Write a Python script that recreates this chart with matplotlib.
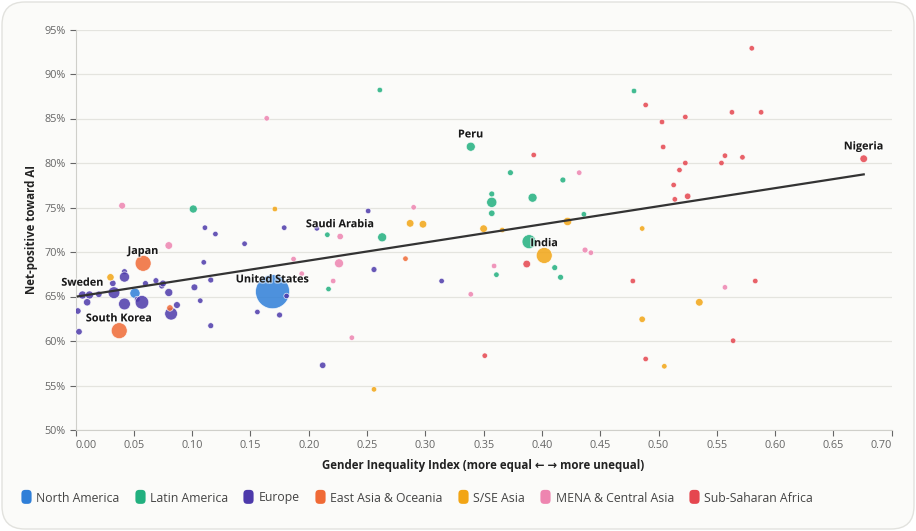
import matplotlib.pyplot as plt
import numpy as np
from matplotlib.patches import FancyBboxPatch, BoxStyle
from matplotlib.lines import Line2D
from matplotlib.markers import MarkerStyle
from matplotlib.ticker import FuncFormatter
import matplotlib.patheffects as pe

plt.rcParams['font.family'] = ['Open Sans', 'DejaVu Sans']

regions = ["North America", "Latin America", "Europe", "East Asia & Oceania",
           "S/SE Asia", "MENA & Central Asia", "Sub-Saharan Africa"]
colors = ["#2f7fd8", "#22b07f", "#4d3aab", "#f06a36", "#f2a515", "#ee85b0", "#e5464f"]

# gender inequality index, net-positive share (%), weight (survey size) per region
na_gii = [0.169, 0.051]
na_pos = [65.54, 65.36]
na_w = [50, 4.5]

latam_gii = [0.101, 0.261, 0.339, 0.373, 0.357, 0.357, 0.357, 0.392, 0.418, 0.436,
             0.216, 0.263, 0.217, 0.361, 0.389, 0.411, 0.416, 0.479]
latam_pos = [74.83, 88.2, 81.83, 78.91, 76.52, 75.58, 74.35, 76.10, 78.09, 74.24,
             71.94, 71.65, 65.84, 67.45, 71.16, 68.24, 67.16, 88.09]
latam_w = [2.8, 1.3, 3.5, 1.5, 1.5, 4.5, 1.8, 3.5, 1.5, 1.3,
           1.3, 3.5, 1.3, 1.3, 8.5, 1.5, 1.5, 1.3]

eu_gii = [0.006, 0.012, 0.020, 0.010, 0.002, 0.003, 0.032, 0.033, 0.042, 0.042,
          0.042, 0.053, 0.057, 0.060, 0.069, 0.074, 0.075, 0.080, 0.082, 0.087,
          0.102, 0.107, 0.110, 0.116, 0.116, 0.120, 0.111, 0.145, 0.156, 0.175,
          0.179, 0.181, 0.207, 0.251, 0.256, 0.314, 0.212]
eu_pos = [65.17, 65.17, 65.25, 64.35, 63.37, 61.04, 66.48, 65.43, 67.79, 67.19,
          64.16, 64.69, 64.35, 66.46, 66.78, 66.18, 66.46, 65.45, 63.07, 64.04,
          66.03, 64.53, 68.84, 66.85, 61.72, 72.02, 72.73, 70.93, 63.26, 62.92,
          72.73, 65.06, 72.66, 74.61, 68.03, 66.74, 57.27]
eu_w = [2.8, 2.8, 1.8, 2.3, 1.8, 1.8, 1.8, 6, 1.5, 4.5,
        6, 1.5, 8, 1.5, 1.5, 1.5, 2, 2.8, 7, 2,
        2, 1.3, 1.3, 1.5, 1.5, 1.3, 1.3, 1.3, 1.3, 1.5,
        1.3, 1.3, 1.3, 1.3, 1.5, 1.3, 1.8]

ea_gii = [0.058, 0.0375, 0.081, 0.283]
ea_pos = [68.73, 61.16, 63.71, 69.25]
ea_w = [11, 11, 1.8, 1.3]

sa_gii = [0.030, 0.171, 0.287, 0.298, 0.350, 0.366, 0.422, 0.402, 0.486, 0.535,
          0.486, 0.505, 0.256]
sa_pos = [67.16, 74.83, 73.22, 73.12, 72.62, 72.47, 73.43, 69.61, 72.64, 64.35,
          62.44, 57.16, 54.57]
sa_w = [2.3, 1.3, 2.5, 2.5, 2.5, 1.3, 3, 11, 1.3, 2.5,
        1.8, 1.3, 1.3]

mena_gii = [0.040, 0.080, 0.164, 0.187, 0.194, 0.221, 0.226, 0.227, 0.237, 0.290,
            0.339, 0.359, 0.432, 0.437, 0.442, 0.557]
mena_pos = [75.2, 70.73, 85.02, 69.21, 67.56, 66.74, 68.73, 71.74, 60.37, 75.02,
            65.25, 68.43, 78.91, 70.22, 69.92, 66.03]
mena_w = [2, 2.5, 1.3, 1.3, 1.3, 1.3, 3.5, 1.8, 1.3, 1.3,
          1.3, 1.3, 1.3, 1.5, 1.3, 1.3]

ssa_gii = [0.676, 0.393, 0.387, 0.351, 0.580, 0.489, 0.503, 0.523, 0.563, 0.588,
           0.504, 0.557, 0.572, 0.554, 0.523, 0.518, 0.513, 0.514, 0.525, 0.478,
           0.583, 0.564, 0.489]
ssa_pos = [80.48, 80.9, 68.65, 58.35, 92.89, 86.52, 84.61, 85.17, 85.70, 85.70,
           81.80, 80.82, 80.64, 80.0, 80.0, 79.21, 77.53, 75.92, 76.26, 66.74,
           66.74, 60.03, 57.98]
ssa_w = [2.5, 1.3, 2.5, 1.3, 1.3, 1.3, 1.3, 1.3, 1.3, 1.3,
         1.3, 1.3, 1.3, 1.3, 1.3, 1.3, 1.3, 1.3, 1.8, 1.3,
         1.3, 1.3, 1.3]

# labelled countries: (name, region index, point index)
labels = [("United States", 0, 0), ("Peru", 1, 2), ("Sweden", 2, 0),
          ("Japan", 3, 0), ("South Korea", 3, 1), ("India", 4, 7),
          ("Saudi Arabia", 5, 7), ("Nigeria", 6, 0)]

x_ticks = [0.00, 0.05, 0.10, 0.15, 0.20, 0.25, 0.30, 0.35, 0.40, 0.45, 0.50, 0.55, 0.60, 0.65, 0.70]
y_ticks = [50, 55, 60, 65, 70, 75, 80, 85, 90, 95]


def rounded_marker():
    # small rounded rectangle used as legend swatch
    path = BoxStyle.Round(pad=0, rounding_size=0.3)(-0.4, -0.5, 0.8, 1.1, 1.0)
    return MarkerStyle(path)


def make_chart():
    gii = [na_gii, latam_gii, eu_gii, ea_gii, sa_gii, mena_gii, ssa_gii]
    pos = [na_pos, latam_pos, eu_pos, ea_pos, sa_pos, mena_pos, ssa_pos]
    weights = [na_w, latam_w, eu_w, ea_w, sa_w, mena_w, ssa_w]

    fig = plt.figure(figsize=(9.16, 5.31), dpi=100)
    fig.patch.set_facecolor("white")
    card = FancyBboxPatch((2 / 916, 2 / 531), 912 / 916, 527 / 531,
                          boxstyle="round,pad=0,rounding_size=0.025",
                          transform=fig.transFigure, facecolor="#fbfbf9",
                          edgecolor="#e2e2de", linewidth=1.0, zorder=-10,
                          mutation_aspect=916 / 531)
    fig.patches.append(card)

    ax = fig.add_axes([75.5 / 916, 1 - 430 / 531, 816.2 / 916, 400.5 / 531])
    ax.set_facecolor("none")
    ax.set_zorder(2)

    for i in range(len(regions)):
        ax.scatter(gii[i], pos[i], s=np.array(weights[i]) * 12, color=colors[i],
                   alpha=0.85, edgecolors="white", linewidths=0.5, zorder=3)

    # linear trend over all countries
    all_x = np.concatenate([np.array(g) for g in gii])
    all_y = np.concatenate([np.array(p) for p in pos])
    slope, intercept = np.polyfit(all_x, all_y, 1)
    xs = np.array([all_x.min(), all_x.max()])
    ax.plot(xs, slope * xs + intercept, color="#333333", linewidth=1.6, zorder=4)

    for name, r, k in labels:
        ax.annotate(name, (gii[r][k], pos[r][k]), xytext=(0, 8.5), textcoords="offset points",
                    ha="center", va="center", fontsize=7.8, fontweight="bold", color="#1a1a1a",
                    zorder=5, path_effects=[pe.withStroke(linewidth=2, foreground="white", alpha=0.5)])

    ax.set_xlim(0, 0.70)
    ax.set_ylim(50, 95)
    ax.set_xticks(x_ticks)
    ax.set_yticks(y_ticks)
    ax.xaxis.set_major_formatter(FuncFormatter(lambda v, p: "{:.2f}".format(v)))
    ax.yaxis.set_major_formatter(FuncFormatter(lambda v, p: "{:.0f}%".format(v)))
    ax.tick_params(axis="both", labelsize=7.8, colors="#666666", length=4, width=0.8, pad=3)
    xl = ax.get_xticklabels()
    xl[0].set_ha("left")
    xl[-1].set_ha("right")

    ax.grid(axis="y", color="#e4e4df", linewidth=0.9, zorder=0)
    ax.set_axisbelow(True)
    for side in ["top", "right"]:
        ax.spines[side].set_visible(False)
    for side in ["left", "bottom"]:
        ax.spines[side].set_color("#cfcfca")

    ax.set_xlabel("Gender Inequality Index (more equal ← → more unequal)", fontsize=8.3,
                  fontweight="bold", color="#222222", labelpad=6)
    ax.set_ylabel("Net-positive toward AI", fontsize=8.3, fontweight="bold",
                  color="#222222", labelpad=5)

    handles = [Line2D([], [], linestyle="none", marker=rounded_marker(), markersize=11,
                      markerfacecolor=c, markeredgecolor="none") for c in colors]
    fig.legend(handles, regions, loc="center left", bbox_to_anchor=(10 / 916, 1 - 498 / 531),
               ncol=7, frameon=False, fontsize=8.8, handlelength=0.8, handletextpad=0.45,
               columnspacing=1.25, labelcolor="#444444")

    fig.savefig("out.png", dpi=100, facecolor=fig.get_facecolor())


if __name__ == "__main__":
    make_chart()
